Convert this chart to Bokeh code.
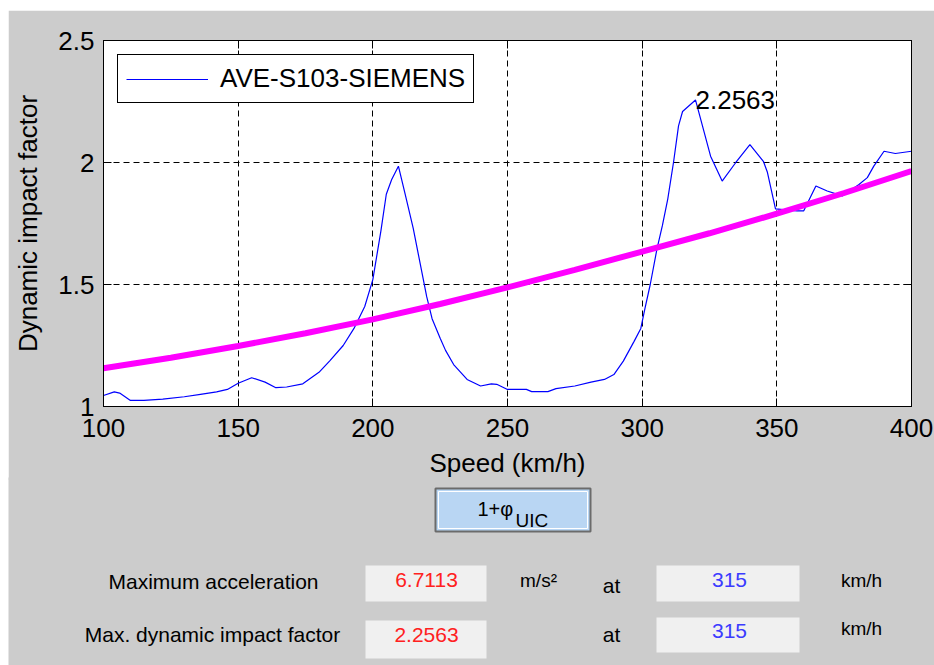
from bokeh.plotting import figure
from bokeh.models import Range1d, LinearAxis, FixedTicker, Legend, LegendItem
from bokeh.core.properties import value
from bokeh.embed import file_html
from bokeh.resources import INLINE

# ---------------- data ----------------
speed = [100, 104, 106, 110, 115, 122, 130, 136, 142, 146, 150, 155, 160, 164, 168, 174,
         180, 184, 189, 193, 197, 200, 203, 205, 207, 209.5, 212, 215, 220, 222, 225, 227,
         230, 235, 240, 244, 246, 250, 257, 259, 265, 268, 275, 281, 286, 289.5, 293, 297,
         299.5, 301, 303, 305.5, 307.5, 309.5, 311.7, 313.5, 315, 319.8, 325.4, 329.7,
         334.7, 340, 345, 346.5, 349.5, 357.5, 360, 364.5, 368.7, 374.3, 380.5, 383.6,
         386, 389.8, 394, 400]
dif = [1.045, 1.06, 1.055, 1.025, 1.025, 1.03, 1.04, 1.05, 1.06, 1.07, 1.095, 1.118, 1.10,
       1.077, 1.08, 1.093, 1.14, 1.187, 1.25, 1.32, 1.41, 1.52, 1.72, 1.87, 1.93, 1.985,
       1.87, 1.73, 1.45, 1.36, 1.28, 1.23, 1.172, 1.111, 1.084, 1.093, 1.091, 1.07, 1.07,
       1.061, 1.061, 1.073, 1.084, 1.10, 1.111, 1.131, 1.186, 1.267, 1.32, 1.40, 1.50,
       1.646, 1.741, 1.85, 2.005, 2.15, 2.209, 2.2563, 2.026, 1.924, 1.999, 2.073, 2.005,
       1.96, 1.81, 1.802, 1.802, 1.904, 1.883, 1.863, 1.91, 1.938, 1.985, 2.046, 2.037,
       2.046]
uic_speed = [100, 125, 150, 175, 200, 225, 250, 275, 300, 325, 350, 375, 400]
uic = [1.157, 1.20, 1.248, 1.30, 1.357, 1.42, 1.488, 1.56, 1.635, 1.71, 1.79, 1.875, 1.965]

x_ticks = [100, 150, 200, 250, 300, 350, 400]
y_ticks = [1, 1.5, 2, 2.5]
y_tick_labels = {1: "1", 1.5: "1.5", 2: "2", 2.5: "2.5"}

series_name = "AVE-S103-SIEMENS"
peak_label = "2.2563"

row_labels = ["Maximum acceleration", "Max. dynamic impact factor"]
row_values = ["6.7113", "2.2563"]
row_unit = "m/s\u00b2"
row_speeds = ["315", "315"]

BG = "#cccccc"
FONT = "Liberation Sans"
FS = "26px"

# ---------------- main chart ----------------
p = figure(width=926, height=470, x_range=Range1d(100, 400), y_range=Range1d(1, 2.5),
           output_backend="svg", toolbar_location=None,
           min_border_left=95, min_border_right=23, min_border_top=30, min_border_bottom=71,
           background_fill_color="white", border_fill_color=BG)
p.margin = (10, 0, 0, 8)
p.outline_line_color = "black"
p.outline_line_width = 1

xa = p.xaxis[0]
ya = p.yaxis[0]
xa.ticker = FixedTicker(ticks=x_ticks)
ya.ticker = FixedTicker(ticks=y_ticks)
ya.major_label_overrides = y_tick_labels
for ax in (xa, ya):
    ax.major_tick_in = 8
    ax.major_tick_out = 0
    ax.minor_tick_line_color = None
    ax.axis_line_color = "black"
    ax.major_tick_line_color = "black"
    ax.major_label_text_font = FONT
    ax.major_label_text_font_size = FS
    ax.major_label_text_color = "black"
    ax.axis_label_text_font = FONT
    ax.axis_label_text_font_size = FS
    ax.axis_label_text_font_style = "normal"
    ax.axis_label_text_color = "black"
xa.axis_label = "Speed (km/h)"
ya.axis_label = "Dynamic impact factor"
xa.major_label_standoff = 12
ya.major_label_standoff = 9
xa.axis_label_standoff = 8
ya.axis_label_standoff = 12

for loc, tk in (("above", x_ticks), ("right", y_ticks)):
    ax = LinearAxis(ticker=FixedTicker(ticks=tk), major_tick_in=8, major_tick_out=0,
                    minor_tick_line_color=None, major_label_text_font_size="1px",
                    major_label_text_color=None,
                    major_label_standoff=0, axis_line_color="black", major_tick_line_color="black")
    p.add_layout(ax, loc)

p.xgrid.ticker = FixedTicker(ticks=x_ticks)
p.ygrid.ticker = FixedTicker(ticks=y_ticks)
for g in (p.xgrid[0], p.ygrid[0]):
    g.grid_line_color = "black"
    g.grid_line_dash = "6 4"
    g.grid_line_width = 1
    g.grid_line_alpha = 1

r_blue = p.line(speed, dif, line_color="#0000ff", line_width=1.2)
p.line(uic_speed, uic, line_color="#ff00ff", line_width=6)

imax = max(range(len(dif)), key=lambda i: dif[i])
p.text(x=[speed[imax]], y=[dif[imax]], text=[peak_label], text_font=value(FONT),
       text_font_size=FS, text_baseline="middle", text_align="left", text_color="black")

legend = Legend(items=[LegendItem(label=series_name, renderers=[r_blue])],
                location="top_left", margin=14, padding=8, spacing=0,
                glyph_width=82, glyph_height=20, label_standoff=12,
                label_text_font=FONT, label_text_font_size=FS, label_text_color="black",
                border_line_color="black", border_line_width=1, border_line_alpha=1,
                background_fill_color="white", background_fill_alpha=1)
p.add_layout(legend)

# ---------------- GUI panel below ----------------
q = figure(width=926, height=188, x_range=Range1d(8, 934), y_range=Range1d(665, 477),
           output_backend="svg", toolbar_location=None, min_border=0,
           min_border_left=0, min_border_right=0, min_border_top=0, min_border_bottom=0,
           background_fill_color=BG, border_fill_color=BG, outline_line_color=None,
           x_axis_location=None, y_axis_location=None)
q.margin = (-3, 0, 0, 8)
q.grid.visible = False

# button
q.quad(left=[435], right=[590], top=[488], bottom=[531], fill_color="#b9d6f3",
       line_color="#6b6b6b", line_width=2)
q.quad(left=[438], right=[587], top=[491], bottom=[528], fill_alpha=0,
       line_color="white", line_width=1)
q.text(x=[477], y=[508], text=["1+\u03c6"], text_font=value(FONT), text_font_size="20px",
       text_baseline="middle", text_align="left", text_color="black")
q.text(x=[515], y=[520], text=["UIC"], text_font=value(FONT), text_font_size="19px",
       text_baseline="middle", text_align="left", text_color="black")

# value boxes
q.quad(left=[365, 365, 656, 656], right=[486, 486, 799, 799], top=[565, 620, 565, 617],
       bottom=[601, 658, 601, 652], fill_color="#f0f0f0", line_color=None)

q.text(x=[213, 212], y=[581, 634], text=row_labels, text_font=value(FONT),
       text_font_size="21px", text_baseline="middle", text_align="center", text_color="black")
q.text(x=[426, 426], y=[579, 634], text=row_values, text_font=value(FONT),
       text_font_size="21px", text_baseline="middle", text_align="center", text_color="#ff2020")
q.text(x=[538], y=[580], text=[row_unit], text_font=value(FONT),
       text_font_size="19px", text_baseline="middle", text_align="center", text_color="black")
q.text(x=[611, 611], y=[585, 634], text=["at", "at"], text_font=value(FONT),
       text_font_size="21px", text_baseline="middle", text_align="center", text_color="black")
q.text(x=[729, 729], y=[579, 630], text=row_speeds, text_font=value(FONT),
       text_font_size="21px", text_baseline="middle", text_align="center", text_color="#3b3bff")
q.text(x=[861, 861], y=[580, 628], text=["km/h", "km/h"], text_font=value(FONT),
       text_font_size="19px", text_baseline="middle", text_align="center", text_color="black")

open("out.html", "w").write(file_html([p, q], INLINE))
